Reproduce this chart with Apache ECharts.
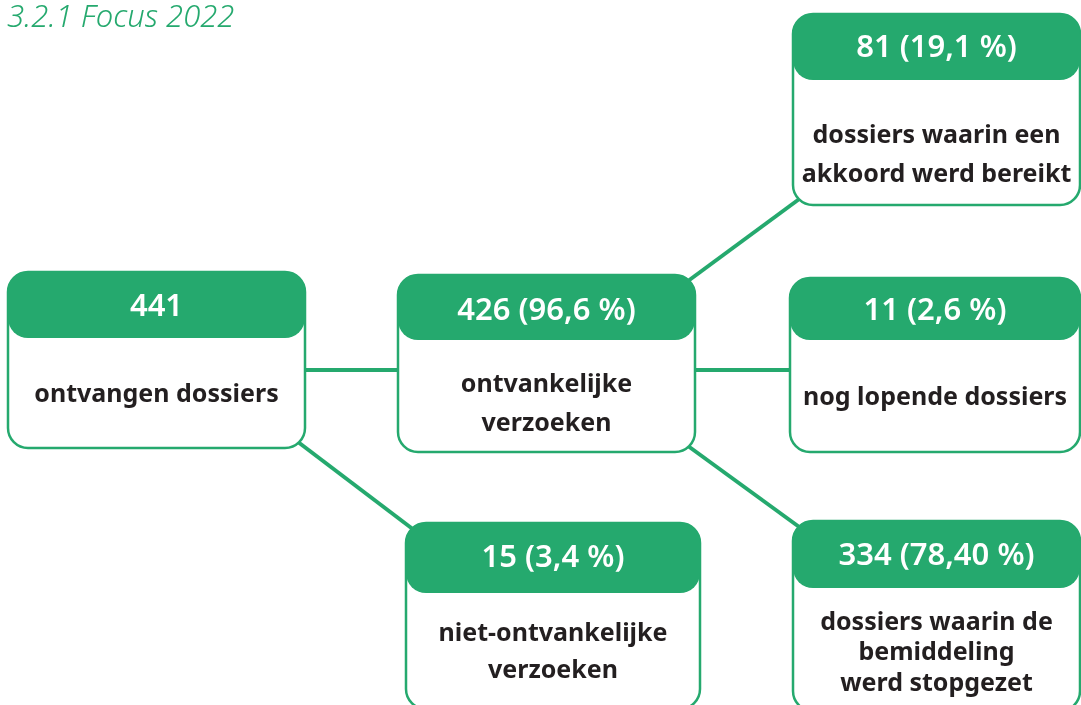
<!DOCTYPE html>
<html>
<head>
<meta charset="utf-8">
<script src="https://cdn.jsdelivr.net/npm/echarts@6/dist/echarts.min.js"></script>
<style>html,body{margin:0;padding:0;background:#fff}#c{width:1081px;height:705px}</style>
</head>
<body>
<div id="c"></div>
<script>
// ---- data ----
const title = '3.2.1 Focus 2022';
const counts = [441, 426, 15, 81, 11, 334];
const percents = [null, '96,6', '3,4', '19,1', '2,6', '78,40'];
const descriptions = [
  ['ontvangen dossiers'],
  ['ontvankelijke', 'verzoeken'],
  ['niet-ontvankelijke', 'verzoeken'],
  ['dossiers waarin een', 'akkoord werd bereikt'],
  ['nog lopende dossiers'],
  ['dossiers waarin de', 'bemiddeling', 'werd stopgezet']
];
const links = [[0, 1], [0, 2], [1, 3], [1, 4], [1, 5]];

// ---- layout (pixels) ----
const GREEN = '#25a96e';
const boxLayout = [
  {x: 8,   y: 272, w: 297, h: 176, hh: 66, hy: 307, by: [395]},
  {x: 398, y: 275, w: 297, h: 177, hh: 65, hy: 311, by: [385, 424]},
  {x: 406, y: 523, w: 294, h: 186, hh: 70, hy: 558, by: [634, 671]},
  {x: 793, y: 14,  w: 287, h: 191, hh: 66, hy: 48,  by: [136, 175]},
  {x: 790, y: 278, w: 290, h: 174, hh: 62, hy: 311, by: [398]},
  {x: 793, y: 521, w: 287, h: 190, hh: 67, hy: 556, by: [623, 653, 684]}
];
const linkLayout = [
  [[305, 370], [398, 370]],
  [[298, 442], [414, 530]],
  [[688, 281], [802, 197]],
  [[695, 370], [790, 370]],
  [[688, 446], [802, 529]]
];

function headerText(i) {
  return percents[i] ? counts[i] + ' (' + percents[i] + ' %)' : String(counts[i]);
}

const chart = echarts.init(document.getElementById('c'), null, {renderer: 'canvas'});
chart.setOption({
  backgroundColor: '#ffffff',
  animation: false,
  title: {
    text: title, left: 2, top: -2,
    textStyle: {color: GREEN, fontFamily: 'Noto Sans', fontStyle: 'italic', fontWeight: 300, fontSize: 31}
  },
  series: [
    {
      type: 'custom', coordinateSystem: 'none', z: 1,
      data: links.map((l, i) => [i, l[0], l[1]]),
      renderItem: function (params, api) {
        const i = api.value(0);
        const p = linkLayout[i];
        return {
          type: 'line',
          shape: {x1: p[0][0], y1: p[0][1], x2: p[1][0], y2: p[1][1]},
          style: {stroke: GREEN, lineWidth: 4}
        };
      }
    },
    {
      type: 'custom', coordinateSystem: 'none', z: 2,
      data: counts.map((c, i) => [i, c]),
      renderItem: function (params, api) {
        const i = api.value(0);
        const b = boxLayout[i];
        const cx = b.x + b.w / 2;
        const children = [
          {type: 'rect', shape: {x: b.x, y: b.y, width: b.w, height: b.h, r: 20},
           style: {fill: '#ffffff', stroke: GREEN, lineWidth: 2.5}},
          {type: 'rect', shape: {x: b.x, y: b.y, width: b.w, height: b.hh, r: 20},
           style: {fill: GREEN}},
          {type: 'text', style: {x: cx, y: b.hy, text: headerText(i), fill: '#ffffff',
            font: '600 31px "Noto Sans"', align: 'center', verticalAlign: 'middle'}}
        ];
        descriptions[i].forEach((line, k) => {
          children.push({type: 'text', style: {x: cx, y: b.by[k], text: line, fill: '#231f20',
            font: 'bold 25px "Noto Sans"', align: 'center', verticalAlign: 'middle'}});
        });
        return {type: 'group', children: children};
      }
    }
  ]
});
</script>
</body>
</html>
